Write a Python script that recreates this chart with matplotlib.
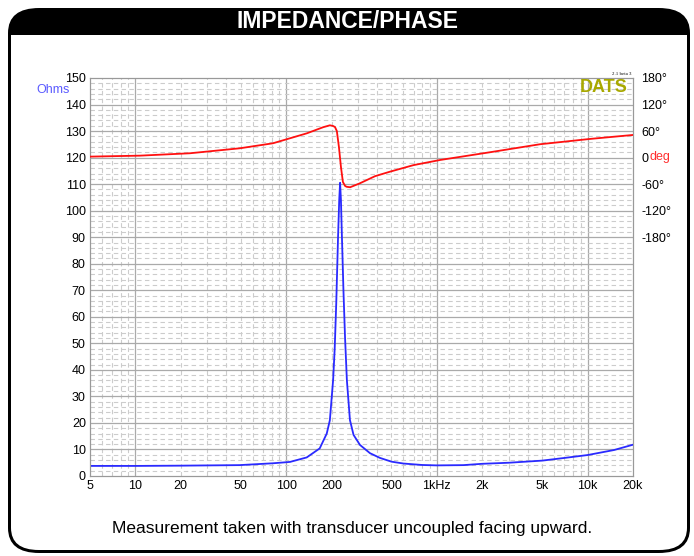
import matplotlib.pyplot as plt
import numpy as np
from matplotlib.patches import FancyBboxPatch, Rectangle

# impedance (Ohms)
freq_z = [5, 10, 20, 49, 82, 106, 137, 167, 186, 195, 205, 210, 215, 221, 225, 228,
          231, 234, 240, 246, 253, 265, 280, 309, 360, 420, 500, 600, 800, 1000,
          1500, 2000, 3000, 5000, 7000, 10000, 15000, 20000]
ohms = [3.8, 3.8, 3.9, 4.1, 4.8, 5.3, 7.0, 10.4, 16, 21, 36.2, 48, 65, 90, 104, 110.5,
        104, 92, 70, 52, 36, 21.1, 15.5, 11.7, 8.6, 6.8, 5.4, 4.7, 4.15, 4.0,
        4.1, 4.6, 5.0, 5.8, 6.8, 7.9, 9.8, 11.8]

# phase (degrees)
freq_p = [5, 10.7, 23, 49.4, 81.8, 137.5, 176, 195, 205, 211, 217, 224, 231, 238, 246,
          252, 266, 309, 389, 489, 700, 1050, 2250, 4830, 10370, 20000]
phase = [2.2, 4.4, 9.8, 21.1, 32.4, 55, 68.7, 73, 71.5, 69, 60, 24, -21, -55, -64,
         -66, -67, -58, -42, -31.8, -17, -5.4, 12.1, 30.2, 42.2, 51.2]

xticks = [5, 10, 20, 50, 100, 200, 500, 1000, 2000, 5000, 10000, 20000]
xlabels = ['5', '10', '20', '50', '100', '200', '500', '1kHz', '2k', '5k', '10k', '20k']
yticks = list(range(0, 151, 10))
pticks = [-180, -120, -60, 0, 60, 120, 180]
plabels = ['-180°', '-120°', '-60°', '0', '60°', '120°', '180°']

plt.rcParams['font.family'] = ['Liberation Sans', 'DejaVu Sans']

fig = plt.figure(figsize=(6.94, 5.56), dpi=100)
W, H = 694, 556

# outer frame with black header
frame = FancyBboxPatch((8 / W, 3 / H), 682 / W, 545 / H,
                       boxstyle='round,pad=0,rounding_size=0.045',
                       transform=fig.transFigure, facecolor='black',
                       edgecolor='black', lw=0, zorder=-3)
fig.patches.append(frame)
inner = FancyBboxPatch((11 / W, 6 / H), 676 / W, 515 / H,
                       boxstyle='round,pad=0,rounding_size=0.04',
                       transform=fig.transFigure, facecolor='white',
                       edgecolor='none', lw=0, zorder=-2)
fig.patches.append(inner)
fig.patches.append(Rectangle((11 / W, 470 / H), 676 / W, 51 / H,
                             transform=fig.transFigure, facecolor='white',
                             edgecolor='none', zorder=-1))
fig.text(0.5, 1 - 21 / H, 'IMPEDANCE/PHASE', color='white', fontsize=16.5,
         fontweight='bold', ha='center', va='center',
         family=['Liberation Sans Narrow', 'Liberation Sans'])
fig.text(352 / W, 1 - 528 / H, 'Measurement taken with transducer uncoupled facing upward.',
         fontsize=12.5, ha='center', va='center',
         family=['Liberation Sans Narrow', 'Liberation Sans'])

ax = fig.add_axes([90 / W, 1 - 476 / H, 543 / W, 398 / H])
ax.set_xscale('log')
ax.set_xlim(5, 20000)
ax.set_ylim(0, 150)

# grid
minors = [m * d for d in [1, 10, 100, 1000, 10000] for m in range(2, 10) if 5 < m * d < 20000]
for f in minors:
    ax.axvline(f, color='#cccccc', lw=0.8, ls=(0, (4, 3)), zorder=0)
for f in [10, 100, 1000, 10000]:
    ax.axvline(f, color='#aaaaaa', lw=0.9, zorder=0)
for v in range(2, 150, 2):
    if v % 10:
        ax.axhline(v, color='#cccccc', lw=0.8, ls=(0, (4, 3)), zorder=0)
    else:
        ax.axhline(v, color='#aaaaaa', lw=0.9, zorder=0)

ax.plot(freq_z, ohms, color='#2a2aff', lw=1.3, zorder=3)

ax.set_xticks(xticks)
ax.set_xticklabels(xlabels)
ax.xaxis.set_minor_locator(plt.NullLocator())
ax.set_yticks(yticks)
ax.tick_params(length=0, labelsize=9, pad=3)
for s in ax.spines.values():
    s.set_color('#999999')

ax2 = ax.twinx()
ax2.set_ylim(-720, 180)
ax2.plot(freq_p, phase, color='#ff1010', lw=1.3, zorder=3)
ax2.set_yticks(pticks)
ax2.set_yticklabels(plabels)
ax2.tick_params(length=0, labelsize=9, pad=6)
for s in ax2.spines.values():
    s.set_color('#999999')
ax2.text(650 / W, 1 - 157 / H, 'deg', color='#ff3030', fontsize=9,
         transform=fig.transFigure, va='center', ha='left')

fig.text(36 / W, 1 - 90 / H, 'Ohms', color='#5a5aff', fontsize=9, va='center')
fig.text(628 / W, 1 - 88 / H, 'DATS', color='#a8a800', fontsize=13,
         fontweight='bold', va='center', ha='right')
fig.text(632 / W, 1 - 74 / H, '2.1 beta 3', fontsize=3.5, va='center', ha='right',
         family='Liberation Serif')

fig.savefig('out.png', dpi=100)
